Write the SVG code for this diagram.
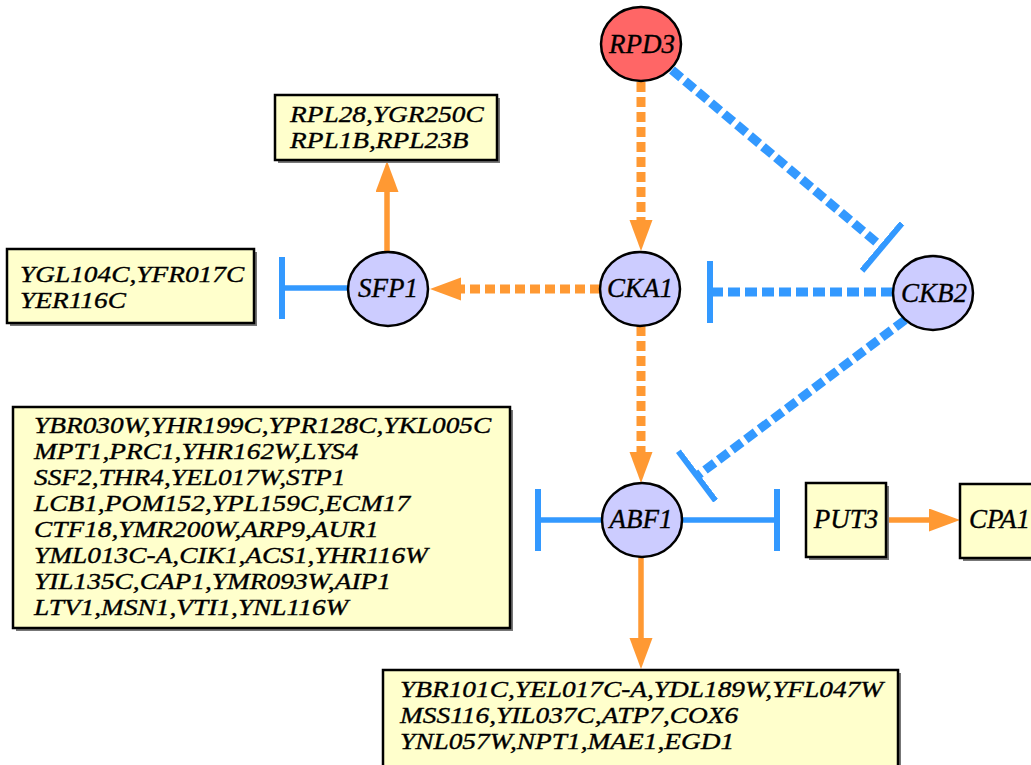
<svg xmlns="http://www.w3.org/2000/svg" width="1031" height="765" viewBox="0 0 1031 765">
<style>
text{font-family:"Liberation Serif","Times New Roman",serif;font-style:italic;font-size:27px;fill:#000;stroke:#000;stroke-width:0.35}
.list text{font-size:23px}
.gene{fill:#ffffcc;stroke:#000;stroke-width:2.5}
.shadow{fill:#777}
.prot{fill:#ccccff;stroke:#000;stroke-width:2.5}
.act{stroke:#ff9933;fill:none}
.inh{stroke:#3399ff;fill:none}
.dash{stroke-width:9}
.solid{stroke-width:5.5}
.act.dash{stroke-dasharray:10 5}
.inh.dash{stroke-dasharray:12 5}
.mid{text-anchor:middle}
</style>
<defs>
<marker id="arr" markerUnits="userSpaceOnUse" markerWidth="32" markerHeight="24" refX="0" refY="11.5" orient="auto" viewBox="0 0 32 24">
<path d="M0,0 L31,11.5 L0,23 z" fill="#ff9933"/>
</marker>
<marker id="tee" markerUnits="userSpaceOnUse" markerWidth="8" markerHeight="64" refX="3" refY="31" orient="auto" viewBox="0 0 8 64">
<path d="M3,0 L3,62" stroke="#3399ff" stroke-width="6" stroke-dasharray="none" fill="none"/>
</marker>
</defs>
<rect width="1031" height="765" fill="#fff"/>
<g id="connectors">
<line class="act dash" x1="641" y1="82" x2="641" y2="220" marker-end="url(#arr)"/>
<line class="inh dash" x1="672" y1="70" x2="882" y2="247" marker-end="url(#tee)"/>
<line class="inh dash" x1="893" y1="292" x2="710" y2="292" marker-end="url(#tee)"/>
<line class="act dash" x1="600" y1="289" x2="461" y2="289" marker-end="url(#arr)"/>
<line class="act dash" x1="641" y1="326" x2="641" y2="452" marker-end="url(#arr)"/>
<line class="inh dash" x1="905" y1="320" x2="697" y2="476" marker-end="url(#tee)"/>
<line class="act solid" x1="387" y1="252" x2="387" y2="192" marker-end="url(#arr)"/>
<line class="inh solid" x1="348" y1="288" x2="282" y2="288" marker-end="url(#tee)"/>
<line class="inh solid" x1="602" y1="520" x2="538" y2="520" marker-end="url(#tee)"/>
<line class="inh solid" x1="682" y1="520" x2="777" y2="520" marker-end="url(#tee)"/>
<line class="act solid" x1="886" y1="520" x2="929" y2="520" marker-end="url(#arr)"/>
<line class="act solid" x1="641" y1="557" x2="641" y2="638" marker-end="url(#arr)"/>
</g>
<g id="RPD3">
<ellipse cx="641" cy="44" rx="40" ry="37" fill="#ff6666" stroke="#000" stroke-width="2.5"/>
<text class="mid" x="642" y="53">RPD3</text>
</g>
<g id="CKA1">
<ellipse class="prot" cx="640" cy="289" rx="40" ry="37"/>
<text class="mid" x="640" y="297">CKA1</text>
</g>
<g id="CKB2">
<ellipse class="prot" cx="933" cy="293" rx="40" ry="37"/>
<text class="mid" x="934" y="302">CKB2</text>
</g>
<g id="SFP1">
<ellipse class="prot" cx="388" cy="289" rx="40" ry="37"/>
<text class="mid" x="388" y="297">SFP1</text>
</g>
<g id="ABF1">
<ellipse class="prot" cx="642" cy="520" rx="40" ry="37"/>
<text class="mid" x="641" y="528">ABF1</text>
</g>
<g id="box_RPL" class="list">
<rect class="shadow" x="278" y="98" width="222" height="65"/>
<rect class="gene" x="275" y="95" width="222" height="65"/>
<g transform="matrix(1.19,0,0,1,290,0)">
<text x="0" y="122">RPL28,YGR250C</text>
<text x="0" y="148">RPL1B,RPL23B</text>
</g>
</g>
<g id="box_YGL" class="list">
<rect class="shadow" x="10" y="252" width="247" height="74"/>
<rect class="gene" x="7" y="249" width="247" height="74"/>
<g transform="matrix(1.19,0,0,1,20,0)">
<text x="0" y="282">YGL104C,YFR017C</text>
<text x="0" y="308">YER116C</text>
</g>
</g>
<g id="box_ABF1_inh" class="list">
<rect class="shadow" x="16" y="410" width="497" height="221"/>
<rect class="gene" x="13" y="407" width="497" height="221"/>
<g transform="matrix(1.19,0,0,1,34,0)">
<text x="0" y="433">YBR030W,YHR199C,YPR128C,YKL005C</text>
<text x="0" y="459">MPT1,PRC1,YHR162W,LYS4</text>
<text x="0" y="485">SSF2,THR4,YEL017W,STP1</text>
<text x="0" y="511">LCB1,POM152,YPL159C,ECM17</text>
<text x="0" y="537">CTF18,YMR200W,ARP9,AUR1</text>
<text x="0" y="563">YML013C-A,CIK1,ACS1,YHR116W</text>
<text x="0" y="589">YIL135C,CAP1,YMR093W,AIP1</text>
<text x="0" y="615">LTV1,MSN1,VTI1,YNL116W</text>
</g>
</g>
<g id="PUT3">
<rect class="shadow" x="809" y="486" width="80" height="74"/>
<rect class="gene" x="806" y="483" width="80" height="74"/>
<text class="mid" x="846" y="528">PUT3</text>
</g>
<g id="CPA1">
<rect class="shadow" x="963" y="487" width="100" height="74"/>
<rect class="gene" x="960" y="484" width="100" height="74"/>
<text x="969" y="528">CPA1</text>
</g>
<g id="box_ABF1_act" class="list">
<rect class="shadow" x="386" y="673" width="515" height="110"/>
<rect class="gene" x="383" y="670" width="515" height="110"/>
<g transform="matrix(1.19,0,0,1,400,0)">
<text x="0" y="697">YBR101C,YEL017C-A,YDL189W,YFL047W</text>
<text x="0" y="723">MSS116,YIL037C,ATP7,COX6</text>
<text x="0" y="749">YNL057W,NPT1,MAE1,EGD1</text>
</g>
</g>
</svg>
